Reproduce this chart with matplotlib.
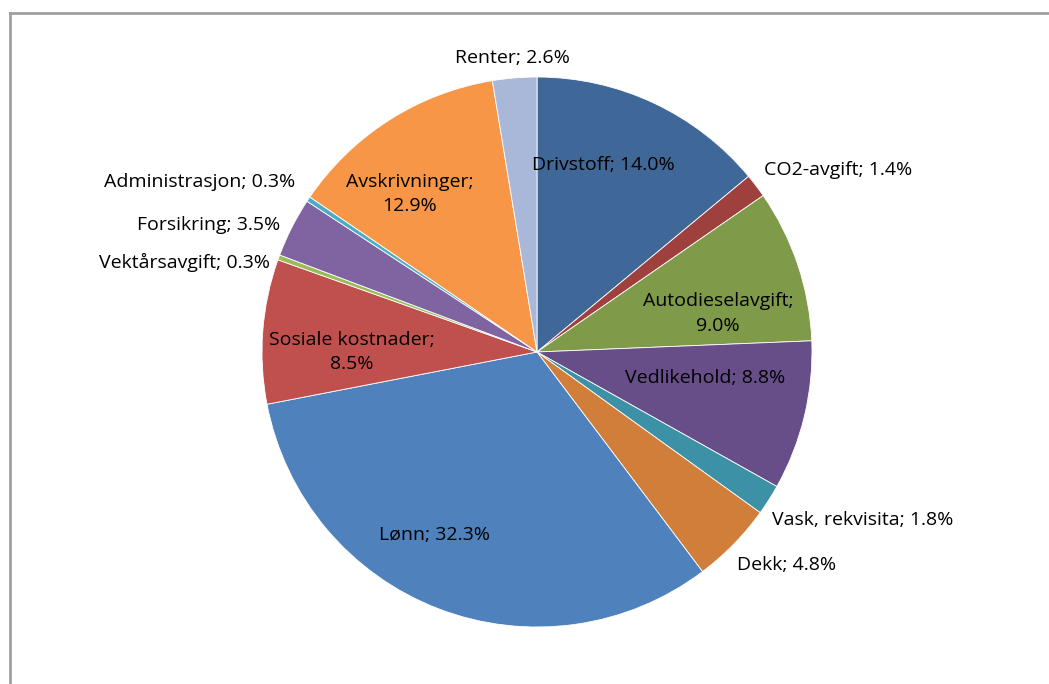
import matplotlib.pyplot as plt
from matplotlib.lines import Line2D

plt.rcParams['font.family'] = ['Open Sans', 'DejaVu Sans']

categories = ["Drivstoff", "CO2-avgift", "Autodieselavgift", "Vedlikehold",
              "Vask, rekvisita", "Dekk", "Lønn", "Sosiale kostnader",
              "Vektårsavgift", "Forsikring", "Administrasjon",
              "Avskrivninger", "Renter"]
shares = [14.0, 1.4, 9.0, 8.8, 1.8, 4.8, 32.3, 8.5, 0.3, 3.5, 0.3, 12.9, 2.6]
colors = ["#3F6899", "#9E413E", "#7F9A48", "#684E88", "#3C91A6", "#D07E3A",
          "#4F81BD", "#C0504D", "#9BBB59", "#8064A2", "#4BACC6", "#F79646",
          "#A9B8D8"]

# label anchors in pie-radius units, with alignment and line break choice
label_pos = [(0.24, 0.68, "center", False), (0.825, 0.662, "left", False),
             (0.658, 0.14, "center", True), (0.611, -0.095, "center", False),
             (0.855, -0.611, "left", False), (0.727, -0.775, "left", False),
             (-0.371, -0.665, "center", False), (-0.673, 0.0, "center", True),
             (-0.971, 0.324, "right", False), (-0.935, 0.462, "right", False),
             (-0.88, 0.618, "right", False), (-0.462, 0.575, "center", True),
             (-0.091, 1.069, "center", False)]

fig = plt.figure(figsize=(10.49, 6.84), dpi=100)
ax = fig.add_axes([262 / 1049, 57 / 684, 550 / 1049, 550 / 684])

ax.pie(shares, colors=colors, startangle=90, counterclock=False, radius=1,
       wedgeprops=dict(edgecolor="white", linewidth=0.6))
ax.set_xlim(-1, 1)
ax.set_ylim(-1, 1)
ax.set_aspect("equal")
ax.axis("off")

for name, val, (x, y, ha, wrap) in zip(categories, shares, label_pos):
    sep = "\n" if wrap else " "
    ax.text(x, y, f"{name};{sep}{val:.1f}%", ha=ha, va="center",
            fontsize=14, color="black", linespacing=1.45, clip_on=False)

# chart area frame (top and left edges visible)
frame = dict(color="#A0A0A0", linewidth=2)
fig.add_artist(Line2D([10 / 1049, 1.0], [1 - 13 / 684, 1 - 13 / 684], **frame))
fig.add_artist(Line2D([10 / 1049, 10 / 1049], [0.0, 1 - 13 / 684], **frame))

fig.savefig("out.png", dpi=100)
